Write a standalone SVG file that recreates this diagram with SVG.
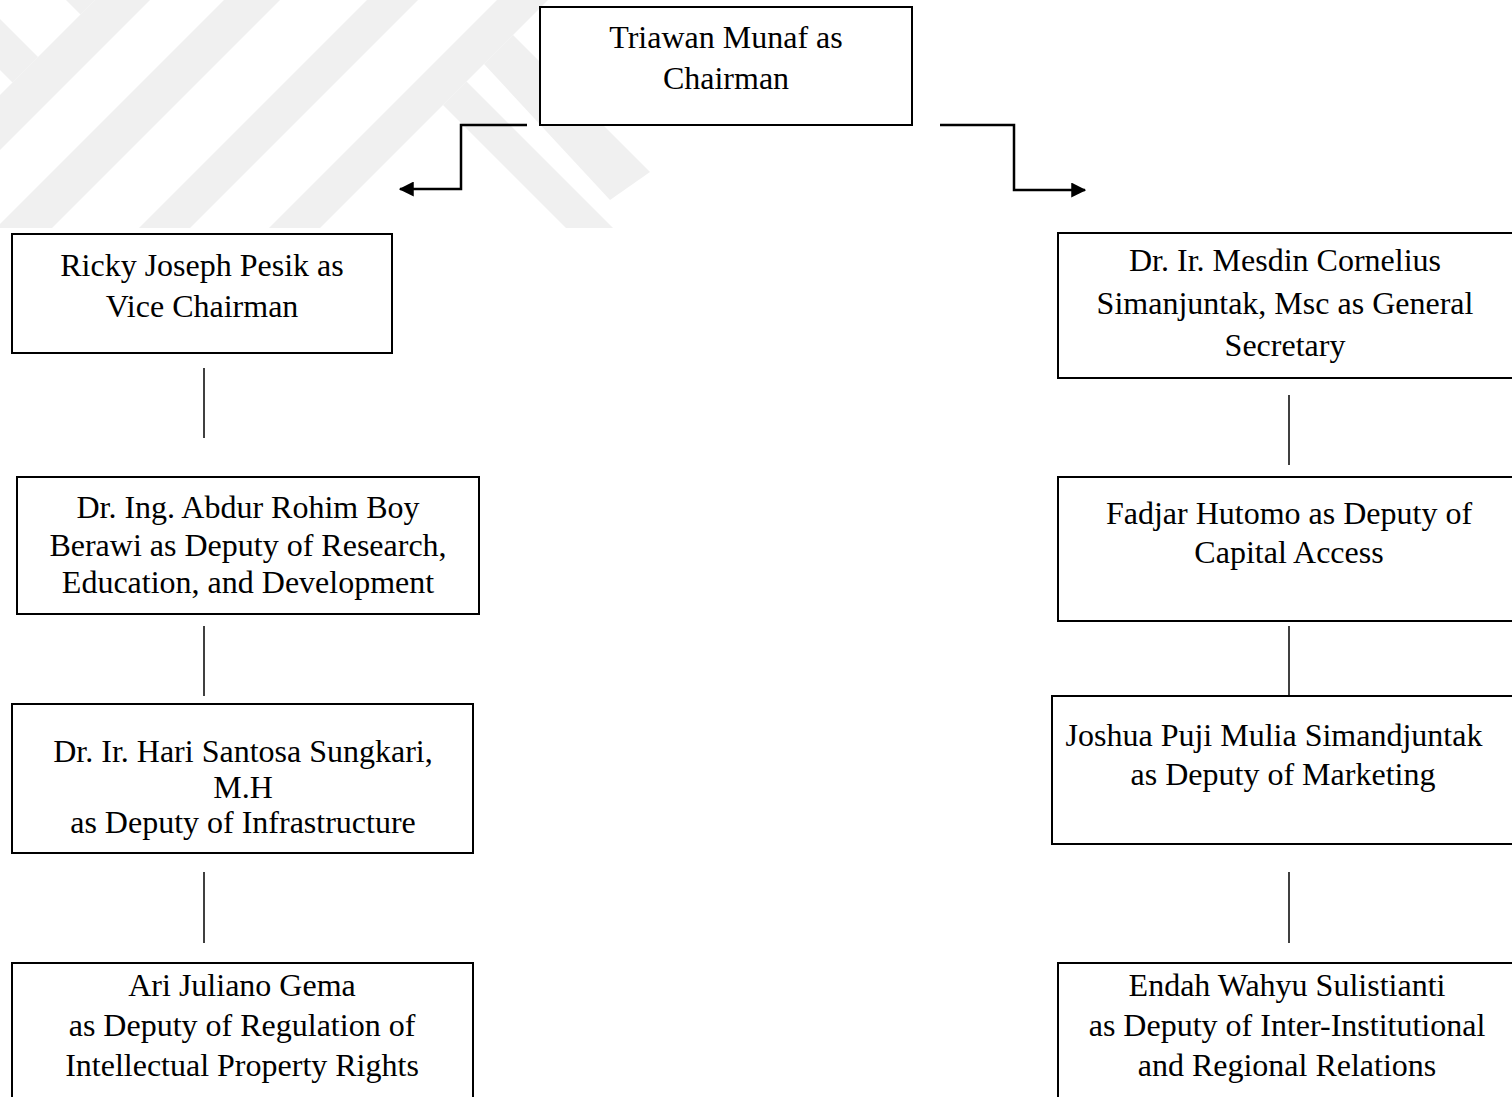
<svg xmlns="http://www.w3.org/2000/svg" width="1512" height="1097" viewBox="0 0 1512 1097">
  <style>
    .box { fill: #ffffff; stroke: #000000; stroke-width: 2; }
    .lbl { font-family: "Liberation Serif", "Times New Roman", serif; font-size: 32px; fill: #000000; text-anchor: middle; }
    .wire { fill: none; stroke: #000000; stroke-width: 2.5; }
    .stem { fill: none; stroke: #000000; stroke-width: 1.5; }
    .mark { fill: #f0f0f0; }
  </style>
  <defs>
    <marker id="arrow" viewBox="0 0 12 12" refX="11" refY="6" markerWidth="6" markerHeight="6" markerUnits="strokeWidth" orient="auto">
      <path d="M0,0 L12,6 L0,12 Z" fill="#000000"/>
    </marker>
    <clipPath id="markClip">
      <rect x="0" y="0" width="760" height="228"/>
    </clipPath>
  </defs>

  <rect x="0" y="0" width="1512" height="1097" fill="#ffffff"/>

  <!-- faint background emblem (diagonal stripes) -->
  <g id="emblem" clip-path="url(#markClip)">
    <polygon class="mark" points="95,0 150,0 0,150 0,95"/>
    <polygon class="mark" points="224,0 280,0 0,280 0,224"/>
    <polygon class="mark" points="367,0 418,0 190,228 139,228"/>
    <polygon class="mark" points="497,0 548,0 320,228 269,228"/>
    <polygon class="mark" points="0,19 38,57 12.5,82.5 0,70"/>
    <polygon class="mark" points="66,0 95,0 80.5,14.5"/>
    <polygon class="mark" points="443,105 466.5,81.5 613,228 566,228"/>
    <polygon class="mark" points="484,64 513,35 650,172 610,200"/>
  </g>

  <!-- connectors -->
  <g id="connectors">
    <path class="wire" d="M527,125 H461 V189 H400" marker-end="url(#arrow)"/>
    <path class="wire" d="M940,125 H1014 V190 H1085" marker-end="url(#arrow)"/>
    <line class="stem" x1="204" y1="368" x2="204" y2="438"/>
    <line class="stem" x1="204" y1="626" x2="204" y2="696"/>
    <line class="stem" x1="204" y1="872" x2="204" y2="943"/>
    <line class="stem" x1="1289" y1="395" x2="1289" y2="465"/>
    <line class="stem" x1="1289" y1="626" x2="1289" y2="696"/>
    <line class="stem" x1="1289" y1="872" x2="1289" y2="943"/>
  </g>

  <!-- nodes -->
  <g id="chairman">
    <rect class="box" x="540" y="7" width="372" height="118"/>
    <text class="lbl" x="726" y="48">Triawan Munaf as</text>
    <text class="lbl" x="726" y="89">Chairman</text>
  </g>

  <g id="vice-chairman">
    <rect class="box" x="12" y="234" width="380" height="119"/>
    <text class="lbl" x="202" y="276">Ricky Joseph Pesik as</text>
    <text class="lbl" x="202" y="317">Vice Chairman</text>
  </g>

  <g id="general-secretary">
    <rect class="box" x="1058" y="233" width="460" height="145"/>
    <text class="lbl" x="1285" y="271">Dr. Ir. Mesdin Cornelius</text>
    <text class="lbl" x="1285" y="314">Simanjuntak, Msc as General</text>
    <text class="lbl" x="1285" y="356">Secretary</text>
  </g>

  <g id="deputy-research">
    <rect class="box" x="17" y="477" width="462" height="137"/>
    <text class="lbl" x="248" y="518">Dr. Ing. Abdur Rohim Boy</text>
    <text class="lbl" x="248" y="556">Berawi as Deputy of Research,</text>
    <text class="lbl" x="248" y="593">Education, and Development</text>
  </g>

  <g id="deputy-capital">
    <rect class="box" x="1058" y="477" width="460" height="144"/>
    <text class="lbl" x="1289" y="524">Fadjar Hutomo as Deputy of</text>
    <text class="lbl" x="1289" y="563">Capital Access</text>
  </g>

  <g id="deputy-infrastructure">
    <rect class="box" x="12" y="704" width="461" height="149"/>
    <text class="lbl" x="243" y="762">Dr. Ir. Hari Santosa Sungkari,</text>
    <text class="lbl" x="243" y="798">M.H</text>
    <text class="lbl" x="243" y="833">as Deputy of Infrastructure</text>
  </g>

  <g id="deputy-marketing">
    <rect class="box" x="1052" y="696" width="466" height="148"/>
    <text class="lbl" x="1274" y="746">Joshua Puji Mulia Simandjuntak</text>
    <text class="lbl" x="1283" y="785">as Deputy of Marketing</text>
  </g>

  <g id="deputy-ipr">
    <rect class="box" x="12" y="963" width="461" height="150"/>
    <text class="lbl" x="242" y="996">Ari Juliano Gema</text>
    <text class="lbl" x="242" y="1036">as Deputy of Regulation of</text>
    <text class="lbl" x="242" y="1076">Intellectual Property Rights</text>
  </g>

  <g id="deputy-relations">
    <rect class="box" x="1058" y="963" width="460" height="150"/>
    <text class="lbl" x="1287" y="996">Endah Wahyu Sulistianti</text>
    <text class="lbl" x="1287" y="1036">as Deputy of Inter-Institutional</text>
    <text class="lbl" x="1287" y="1076">and Regional Relations</text>
  </g>
</svg>
